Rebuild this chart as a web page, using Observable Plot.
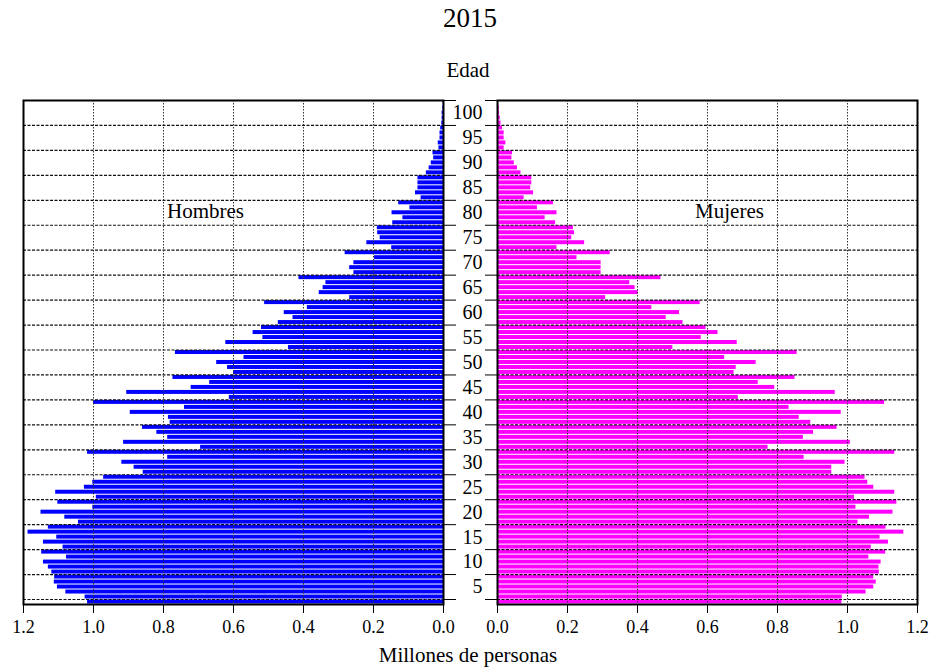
<!DOCTYPE html>
<html>
<head>
<meta charset="utf-8">
<script src="https://cdn.jsdelivr.net/npm/d3@7"></script>
<script src="https://cdn.jsdelivr.net/npm/@observablehq/plot@0.6"></script>
<style>
  body { margin: 0; background: #fff; }
  #wrap { position: relative; width: 936px; height: 669px; font-family: "Liberation Serif", "Times New Roman", serif; color: #000; }
  #wrap svg { position: absolute; left: 0; top: 0; }
  .lbl { position: absolute; white-space: nowrap; transform: translate(-50%, -50%); }
</style>
</head>
<body>
<div id="wrap">
  <div class="lbl" style="left:470px; top:18px; font-size:27px;">2015</div>
  <div class="lbl" style="left:468px; top:70px; font-size:21px;">Edad</div>
  <div class="lbl" style="left:468px; top:655px; font-size:21px;">Millones de personas</div>
</div>
<script>
// Ages 0..100 (single years)
const ages = d3.range(0, 101);

// Hombres (millions), age 0 .. 100
const hombres = [
  1.017, 1.024, 1.079, 1.103, 1.112, 1.111, 1.119, 1.129, 1.143, 1.077,
  1.148, 1.087, 1.143, 1.105, 1.187, 1.129, 1.043, 1.082, 1.150, 1.002,
  1.102, 0.992, 1.108, 1.026, 1.002, 0.971, 0.858, 0.884, 0.919, 0.788,
  1.017, 0.694, 0.914, 0.788, 0.819, 0.860, 0.781, 0.786, 0.895, 0.740,
  1.000, 0.612, 0.905, 0.721, 0.668, 0.773, 0.600, 0.617, 0.648, 0.570,
  0.766, 0.443, 0.622, 0.516, 0.544, 0.520, 0.472, 0.430, 0.455, 0.389,
  0.511, 0.268, 0.355, 0.344, 0.336, 0.413, 0.256, 0.268, 0.256, 0.197,
  0.281, 0.148, 0.219, 0.181, 0.188, 0.189, 0.145, 0.116, 0.147, 0.096,
  0.128, 0.064, 0.080, 0.073, 0.073, 0.073, 0.049, 0.041, 0.035, 0.028,
  0.030, 0.013, 0.015, 0.010, 0.010, 0.008, 0.005, 0.004, 0.004, 0.002,
  0.001
];

// Mujeres (millions), age 0 .. 100
const mujeres = [
  0.984, 0.985, 1.053, 1.075, 1.082, 1.075, 1.091, 1.090, 1.096, 1.061,
  1.109, 1.068, 1.117, 1.093, 1.161, 1.110, 1.030, 1.063, 1.130, 1.024,
  1.141, 1.020, 1.135, 1.075, 1.058, 1.050, 0.955, 0.955, 0.993, 0.876,
  1.135, 0.773, 1.008, 0.874, 0.903, 0.970, 0.895, 0.862, 0.982, 0.833,
  1.106, 0.688, 0.965, 0.792, 0.745, 0.850, 0.676, 0.682, 0.739, 0.649,
  0.856, 0.501, 0.685, 0.582, 0.630, 0.596, 0.530, 0.482, 0.520, 0.441,
  0.579, 0.309, 0.402, 0.393, 0.378, 0.467, 0.296, 0.296, 0.296, 0.227,
  0.322, 0.170, 0.249, 0.212, 0.220, 0.217, 0.166, 0.136, 0.170, 0.114,
  0.160, 0.076, 0.103, 0.095, 0.098, 0.098, 0.067, 0.057, 0.048, 0.041,
  0.043, 0.019, 0.024, 0.019, 0.019, 0.014, 0.010, 0.008, 0.006, 0.005,
  0.003
];

// Axis tick values
const xTicks = [0, 0.2, 0.4, 0.6, 0.8, 1.0, 1.2];
const gridX = [0.2, 0.4, 0.6, 0.8, 1.0];
const ageTickValues = [0, 5, 10, 15, 20, 25, 30, 35, 40, 45, 50, 55, 60, 65, 70, 75, 80, 85, 90, 95, 100];
const ageLabels = [5, 10, 15, 20, 25, 30, 35, 40, 45, 50, 55, 60, 65, 70, 75, 80, 85, 90, 95, 100];

const men = ages.map((a, i) => ({age: a, v: hombres[i]}));
const women = ages.map((a, i) => ({age: a, v: mujeres[i]}));
const yTickPos = ageTickValues.map(k => k + 1);
const yLabelRows = ageLabels.map(k => ({pos: k - 1.5, text: String(k)}));

const W = 936, H = 669;
const common = {
  width: W, height: H, marginTop: 100, marginBottom: 65,
  y: {domain: [0, 101]},
  style: {fontFamily: "Liberation Serif, Times New Roman, serif", fontSize: "18px", background: "transparent", color: "#000", overflow: "visible"}
};

function gridMarks() {
  return [
    Plot.ruleY(yTickPos, {stroke: "#111", strokeWidth: 1.2, strokeDasharray: "3,1.5"}),
    Plot.ruleX(gridX, {stroke: "#333", strokeWidth: 1, strokeDasharray: "1.5,1.5"})
  ];
}

const left = Plot.plot({
  ...common,
  marginLeft: 23, marginRight: W - 443,
  x: {domain: [0, 1.2], reverse: true},
  marks: [
    Plot.rect(men, {x1: 0, x2: "v", y1: "age", y2: d => d.age + 1, fill: "#0000ff", insetTop: 0.5, insetBottom: 0.5}),
    ...gridMarks(),
    Plot.frame({stroke: "#000", strokeWidth: 2}),
    Plot.axisX({ticks: xTicks, tickSize: 9, tickPadding: 7, tickFormat: d3.format(".1f"), label: null, fontSize: 18}),
    Plot.axisY({anchor: "right", ticks: yTickPos, tickSize: 12, tickFormat: () => "", label: null}),
    Plot.text(["Hombres"], {frameAnchor: "top-left", dx: 205 - 23, dy: 111, lineAnchor: "middle", text: d => d, fontSize: 21, textAnchor: "middle"})
  ]
});

const right = Plot.plot({
  ...common,
  marginLeft: 497, marginRight: W - 917,
  x: {domain: [0, 1.2]},
  marks: [
    Plot.rect(women, {x1: 0, x2: "v", y1: "age", y2: d => d.age + 1, fill: "#ff00ff", insetTop: 0.5, insetBottom: 0.5}),
    ...gridMarks(),
    Plot.frame({stroke: "#000", strokeWidth: 2}),
    Plot.axisX({ticks: xTicks, tickSize: 9, tickPadding: 7, tickFormat: d3.format(".1f"), label: null, fontSize: 18}),
    Plot.axisY({anchor: "left", ticks: yTickPos, tickSize: 12, tickFormat: () => "", label: null}),
    Plot.text(yLabelRows, {y: "pos", text: "text", frameAnchor: "left", textAnchor: "end", dx: -15, fontSize: 20}),
    Plot.text(["Mujeres"], {frameAnchor: "top-left", dx: 729 - 497, dy: 111, lineAnchor: "middle", text: d => d, fontSize: 21, textAnchor: "middle"})
  ]
});

const wrap = document.getElementById("wrap");
wrap.prepend(right);
wrap.prepend(left);
</script>
</body>
</html>
